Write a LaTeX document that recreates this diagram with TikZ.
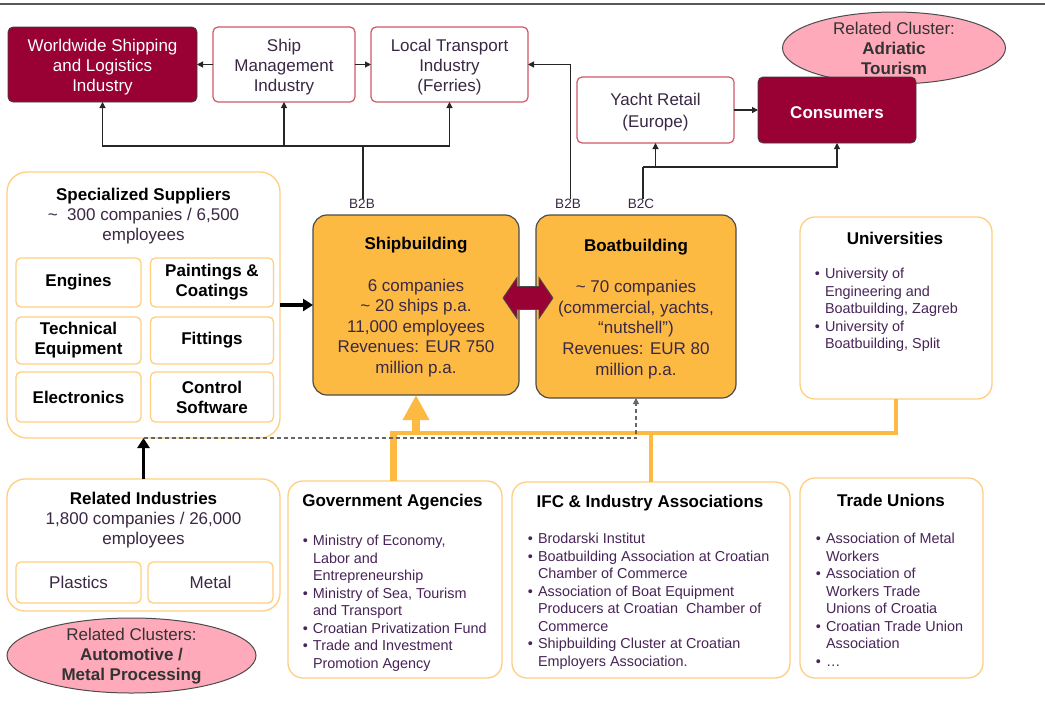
\documentclass[tikz,border=0pt]{standalone}
\usepackage{fontspec}
\setmainfont{Liberation Sans}
\usetikzlibrary{arrows.meta,shapes.geometric}
\definecolor{dred}{RGB}{153,0,51}
\definecolor{rborder}{RGB}{208,88,102}
\definecolor{ofill}{RGB}{253,186,66}
\definecolor{oline}{RGB}{253,186,66}
\definecolor{lborder}{RGB}{255,206,128}
\definecolor{pinkf}{RGB}{255,170,186}
\definecolor{txt}{RGB}{58,40,68}
\definecolor{bltxt}{RGB}{72,36,88}
\newcommand{\mainsz}{\fontsize{17}{20}\selectfont}
\newcommand{\orsz}{\fontsize{17}{20.6}\selectfont}
\newcommand{\listsz}{\fontsize{14.4}{17.5}\selectfont}
\newcommand{\labsz}{\fontsize{13.5}{15}\selectfont}
\newcommand{\bul}{\llap{\textbullet\hspace{5pt}}}
\newcommand{\tup}{\rule{0pt}{17pt}}
\begin{document}
\begin{tikzpicture}[x=1pt,y=-1pt,
  every node/.style={inner sep=0pt, outer sep=0pt},
  darkbox/.style={draw=black!75, line width=0.8pt, fill=dred, rounded corners=5pt, text=white, align=center, font=\mainsz},
  redbox/.style={draw=rborder, line width=1.2pt, fill=white, rounded corners=5pt, text=txt, align=center, font=\mainsz},
  orbox/.style={draw=black!70, line width=1.2pt, fill=ofill, rounded corners=14pt, text=txt, align=center, font=\orsz},
  lbox/.style={draw=lborder, line width=1.3pt, fill=white},
  subbox/.style={draw=lborder, line width=1.3pt, fill=white, rounded corners=5pt, align=center, font=\mainsz\bfseries, text=black},
  clus/.style={ellipse, draw=black!70, line width=1pt, fill=pinkf},
  titl/.style={font=\mainsz\bfseries, text=black},
  listtxt/.style={anchor=north west, align=left, font=\listsz, text=bltxt},
  lab/.style={font=\labsz, text=txt},
  conn/.style={draw=black!85, line width=1.1pt},
  arr/.style={draw=black!85, line width=1.1pt, -{Triangle[length=6pt,width=6pt]}},
  bigarr/.style={draw=black, line width=3.5pt, -{Triangle[length=10pt,width=12pt]}},
  dsh/.style={draw=black!60, line width=1.2pt, dash pattern=on 4pt off 3pt, -{Triangle[length=6pt,width=6pt]}},
  ol/.style={draw=oline}
]
\fill[white] (0,0) rectangle (1045,713);
\useasboundingbox (0,0) rectangle (1045,713);
\draw[black!65, line width=1.5pt] (0,4) -- (1045,4);

% top row
\node[darkbox, minimum width=189pt, minimum height=75pt] (ww) at (102.5,64.5) {\tup Worldwide Shipping\\and Logistics\\Industry};
\node[redbox, minimum width=142pt, minimum height=75pt] (sm) at (284,64.5) {\tup Ship\\Management\\Industry};
\node[redbox, minimum width=157pt, minimum height=75pt] (lt) at (449.5,64.5) {\tup Local Transport\\Industry\\(Ferries)};
\node[clus, minimum width=223pt, minimum height=72pt] (adr) at (894,48) {};
\node[align=center, font=\mainsz, text=black!80] (adrt) at (894,48) {Related Cluster:\\\textbf{Adriatic}\\\textbf{Tourism}};
\node[redbox, minimum width=157pt, minimum height=66pt] (yr) at (655.5,110) {\tup Yacht Retail\\[2pt](Europe)};
\node[darkbox, minimum width=158pt, minimum height=66pt, font=\mainsz\bfseries] (cons) at (837,110) {\tup Consumers};

% labels
\node[lab] (b2b1) at (362,204) {B2B};
\node[lab] (b2b2) at (568,204) {B2B};
\node[lab] (b2c) at (641,204) {B2C};

% core boxes
\node[orbox, minimum width=206pt, minimum height=180pt] (sb) at (416,305) {\tup\textcolor{black}{\textbf{Shipbuilding}}\\[20.6pt]6 companies\\\textasciitilde\ 20 ships p.a.\\11,000 employees\\Revenues: EUR 750\\million p.a.};
\node[orbox, minimum width=200pt, minimum height=183pt] (bb) at (636,306.5) {\tup\textcolor{black}{\textbf{Boatbuilding}}\\[20.6pt]\textasciitilde\ 70 companies\\(commercial, yachts,\\“nutshell”)\\Revenues: EUR 80\\million p.a.};

% universities
\node[lbox, rounded corners=15pt, minimum width=192pt, minimum height=182pt] (uni) at (896,308) {};
\node[titl] (unit) at (895,238) {Universities};
\node[listtxt] (unil) at (825,268.5) {\bul University of\\Engineering and\\Boatbuilding, Zagreb\\\bul University of\\Boatbuilding, Split};

% specialized suppliers
\node[lbox, rounded corners=20pt, minimum width=273pt, minimum height=266pt] (ss) at (143.5,305) {};
\node[align=center, font=\mainsz, text=txt] (sst) at (143.5,216.5) {\textcolor{black}{\textbf{Specialized Suppliers}}\\\textasciitilde\ \ 300 companies / 6,500\\employees};
\node[subbox, minimum width=125pt, minimum height=49pt] (eng) at (78.5,282.5) {Engines};
\node[subbox, minimum width=123pt, minimum height=49pt] (pai) at (212,282.5) {Paintings \&\\Coatings};
\node[subbox, minimum width=125pt, minimum height=47pt] (tec) at (78.5,340.5) {Technical\\Equipment};
\node[subbox, minimum width=123pt, minimum height=47pt] (fit) at (212,340.5) {Fittings};
\node[subbox, minimum width=125pt, minimum height=50pt] (ele) at (78.5,397) {Electronics};
\node[subbox, minimum width=123pt, minimum height=50pt] (ctl) at (212,397) {Control\\Software};

% related industries
\node[lbox, rounded corners=18pt, minimum width=273pt, minimum height=132pt] (ri) at (143.5,545) {};
\node[align=center, font=\mainsz, text=txt] (rit) at (143.5,520.5) {\textcolor{black}{\textbf{Related Industries}}\\1,800 companies / 26,000\\employees};
\node[subbox, font=\mainsz, text=txt, minimum width=125pt, minimum height=41pt] (pla) at (78.5,582.5) {Plastics};
\node[subbox, font=\mainsz, text=txt, minimum width=125pt, minimum height=41pt] (met) at (210.5,582.5) {Metal};
\node[clus, minimum width=249pt, minimum height=75pt] (rc) at (131.5,655.5) {};
\node[align=center, font=\mainsz, text=black!80] (rct) at (131.5,656) {Related Clusters:\\\textbf{Automotive /}\\\textbf{Metal Processing}};

% government
\node[lbox, rounded corners=15pt, minimum width=214pt, minimum height=197pt] (gov) at (395,579.5) {};
\node[titl] (govt) at (392.5,502) {Government Agencies};
\node[listtxt] (govl) at (313,535.5) {\bul Ministry of Economy,\\Labor and\\Entrepreneurship\\\bul Ministry of Sea, Tourism\\and Transport\\\bul Croatian Privatization Fund\\\bul Trade and Investment\\Promotion Agency};

% IFC
\node[lbox, rounded corners=15pt, minimum width=278pt, minimum height=196pt] (ifc) at (651,580) {};
\node[titl] (ifct) at (650,503) {IFC \& Industry Associations};
\node[listtxt] (ifcl) at (538,533.5) {\bul Brodarski Institut\\\bul Boatbuilding Association at Croatian\\Chamber of Commerce\\\bul Association of Boat Equipment\\Producers at Croatian\ \ Chamber of\\Commerce\\\bul Shipbuilding Cluster at Croatian\\Employers Association.};

% Trade unions
\node[lbox, rounded corners=15pt, minimum width=183pt, minimum height=200pt] (tu) at (891.5,578) {};
\node[titl] (tut) at (891,500) {Trade Unions};
\node[listtxt] (tul) at (826,533.5) {\bul Association of Metal\\Workers\\\bul Association of\\Workers Trade\\Unions of Croatia\\\bul Croatian Trade Union\\Association\\\bul …};

% connectors top
\draw[arr] (sm.west) -- (ww.east);
\draw[arr] (sm.east) -- (lt.west);
\coordinate (j1) at (363,146);
\draw[conn] ([xshift=1pt]b2b1.north) -- (j1);
\draw[arr] (j1) -| (ww.south);
\draw[arr] (j1) -| (sm.south);
\draw[arr] (j1) -| (lt.south);
\draw[arr] ([xshift=2.5pt]b2b2.north) |- (lt.east);
\coordinate (j2) at (643,167);
\draw[conn] ([xshift=2pt]b2c.north) -- (j2);
\draw[arr] (j2) -| (yr.south);
\draw[arr] (j2) -| (cons.south);
\draw[arr] (yr.east) -- (cons.west);

% black thick arrows
\draw[bigarr] (ss.east) -- (sb.west);
\draw[bigarr] (ri.north) -- (ss.south);

% orange connectors
\coordinate (g1) at (393,433);
\draw[ol, line width=7pt] (gov.north -| g1) -- ([yshift=-2pt]g1);
\draw[ol, line width=4.5pt] ([xshift=-3.5pt]g1) -- (g1 -| uni.south) -- (uni.south);
\draw[ol, line width=4pt] (ifc.north) -- (ifc.north |- g1);
\draw[ol, line width=8pt, -{Triangle[length=25pt,width=25pt]}] (sb.south |- g1) -- (sb.south);

% dashed
\draw[dsh] (ss.south) -- (ss.south -| bb.south) -- (bb.south);

% double arrow
\begin{scope}[shift={(528,298)}]
\filldraw[fill=dred, draw=black!70, line width=0.8pt] (-25,0) -- (-11,-20.5) -- (-11,-11.5) -- (11,-11.5) -- (11,-20.5) -- (25,0) -- (11,20.5) -- (11,11.5) -- (-11,11.5) -- (-11,20.5) -- cycle;
\end{scope}
\end{tikzpicture}
\end{document}
